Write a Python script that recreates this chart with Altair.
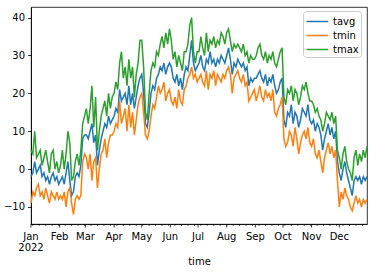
import altair as alt
import pandas as pd

# values every second day of 2022
tavg = [
    -2, -1, 2, -1, 0, 1, -2, -1, -3, -2, -4, -2, -1, -3, -2, -4,          # Jan
    -3, -2, -4, -1, 2, -3, -7, -6, -2, -1, -2, 1, 8, 9,                   # Feb
    9, 8, 10, 12, 7, 9, 1, 5, 8, 10, 12, 11, 14, 12, 13,                  # Mar
    14, 16, 15, 21, 18, 19, 20, 17, 22, 17, 20, 16, 19, 22, 24,           # Apr
    25, 20, 12, 11, 15, 20, 22, 21, 24, 25, 27, 26, 28, 25, 27, 28,       # May
    27, 24, 23, 25, 22, 24, 21, 25, 27, 26, 30, 34, 28, 26, 27,           # Jun
    28, 30, 27, 26, 29, 28, 31, 28, 29, 27, 29, 28, 30, 29, 28,           # Jul
    30, 32, 29, 25, 28, 27, 29, 28, 27, 28, 26, 27, 22, 24, 23, 24,       # Aug
    24, 25, 26, 24, 23, 25, 22, 24, 23, 25, 22, 20, 21, 23, 24,           # Sep
    13, 11, 15, 14, 17, 12, 15, 14, 11, 13, 16, 15, 14, 17, 13,           # Oct
    12, 13, 10, 12, 11, 9, 5, 8, 10, 12, 9, 11, 8, 10, 2,                 # Nov
    -1, -3, 0, 2, -1, -3, -5, -7, -3, -2, -3, -2, -4, -2, -3, -2,         # Dec
]
tmin = [
    -9, -6, -7, -5, -4, -7, -6, -8, -5, -7, -9, -6, -7, -8, -6, -8,
    -7, -8, -6, -10, -6, -5, -9, -12, -8, -7, -8, -7, 2, 4,
    3, 0, 4, -3, 2, 3, -5, 0, 4, 5, 8, 3, 7, 9, 9,
    10, 12, 11, 18, 12, 14, 16, 10, 17, 11, 15, 9, 13, 17, 19,
    20, 15, 9, 8, 10, 14, 17, 16, 19, 22, 20, 21, 23, 18, 20, 21,
    18, 17, 19, 16, 21, 18, 17, 21, 22, 24, 25, 27, 24, 25, 23,
    24, 25, 23, 22, 26, 21, 25, 24, 26, 22, 25, 24, 23, 25, 24,
    26, 27, 25, 20, 24, 25, 26, 24, 23, 25, 22, 23, 18, 19, 20, 21,
    18, 20, 22, 19, 18, 21, 19, 20, 18, 21, 15, 14, 16, 17, 19,
    8, 6, 7, 10, 9, 6, 11, 8, 4, 7, 9, 10, 8, 11, 7,
    6, 8, 4, 3, 5, 2, -1, 3, 5, 7, 4, 6, 3, 5, -3,
    -10, -6, -8, -5, -7, -8, -10, -11, -9, -7, -9, -8, -10, -8, -9, -8,
]
tmax = [
    5, 4, 10, 3, 4, 5, 1, 3, 5, 2, -1, 4, 5, 0, 2, -1,
    1, 5, 0, 4, 10, 7, -3, -2, 2, 4, 1, 5, 12, 14,
    16, 12, 16, 22, 11, 19, 5, 10, 14, 16, 18, 14, 20, 16, 19,
    20, 23, 21, 28, 31, 24, 27, 22, 29, 24, 27, 19, 25, 28, 34,
    34, 27, 15, 13, 20, 26, 28, 27, 31, 30, 33, 35, 32, 36, 33, 37,
    34, 29, 31, 27, 30, 28, 26, 31, 31, 33, 38, 40, 31, 28, 31,
    31, 35, 32, 30, 36, 31, 34, 33, 35, 32, 34, 33, 36, 35, 33,
    36, 37, 34, 31, 33, 32, 33, 32, 31, 33, 30, 31, 28, 30, 29, 29,
    30, 32, 33, 30, 29, 31, 28, 30, 29, 31, 28, 27, 29, 31, 32,
    19, 17, 21, 20, 22, 18, 21, 20, 17, 19, 22, 21, 23, 20, 18,
    18, 17, 15, 16, 14, 13, 10, 12, 15, 14, 13, 15, 12, 14, 5,
    3, 0, 4, 6, 2, 0, -1, -3, 3, 5, 1, 4, 2, 5, 3, 6,
]
series_names = ["tavg", "tmin", "tmax"]
series_colors = ["#1f77b4", "#ff7f0e", "#2ca02c"]
y_ticks = [-10, 0, 10, 20, 30, 40]
month_labels = ["Jan", "Feb", "Mar", "Apr", "May", "Jun",
                "Jul", "Aug", "Sep", "Oct", "Nov", "Dec"]
year_label = "2022"

W, H = 336, 217

n = min(len(tavg), len(tmin), len(tmax))
dates = pd.date_range("2022-01-01", periods=n, freq="2D")
rows = []
for name, vals in zip(series_names, [tavg, tmin, tmax]):
    for d, v in zip(dates, vals[:n]):
        rows.append({"time": d.strftime("%Y-%m-%dT00:00:00"), "series": name, "value": v})
df = pd.DataFrame(rows)

mondays = pd.date_range("2022-01-03", "2022-12-31", freq="7D")
minor_df = pd.DataFrame({"time": [d.strftime("%Y-%m-%dT00:00:00") for d in mondays]})
month_df = pd.DataFrame({
    "time": [f"2022-{m:02d}-01T00:00:00" for m in range(1, 13)],
    "label": month_labels,
})
year_df = pd.DataFrame({"time": ["2022-01-01T00:00:00"], "label": [year_label]})

x_scale = alt.Scale(domain=[alt.DateTime(year=2022, month=1, date=1),
                            alt.DateTime(year=2022, month=12, date=31)])

lines = alt.Chart(df).mark_line(strokeWidth=1.5).encode(
    x=alt.X("time:T", scale=x_scale,
            axis=alt.Axis(title="time", ticks=False, labels=False, titlePadding=32)),
    y=alt.Y("value:Q", scale=alt.Scale(domain=[-14.5, 42.8], nice=False, zero=False),
            axis=alt.Axis(values=y_ticks, title=None, tickSize=3.5, labelPadding=3)),
    color=alt.Color("series:N", scale=alt.Scale(domain=series_names, range=series_colors),
                    legend=alt.Legend(title=None, orient="none", legendX=272, legendY=4,
                                      strokeColor="#cccccc", fillColor="white", cornerRadius=3,
                                      padding=2, symbolType="M-0.9,0L1.9,0", symbolSize=240,
                                      symbolStrokeWidth=1.5, labelFontSize=10,
                                      labelFont="DejaVu Sans", labelColor="#000",
                                      labelOffset=11, rowPadding=0)),
)

minor = alt.Chart(minor_df).mark_rule(color="black", strokeWidth=0.6).encode(
    x=alt.X("time:T", scale=x_scale),
    y=alt.value(H),
    y2=alt.value(H + 2),
)

major = alt.Chart(month_df).mark_rule(color="black", strokeWidth=0.8).encode(
    x=alt.X("time:T", scale=x_scale),
    y=alt.value(H),
    y2=alt.value(H + 3.5),
)

month_text = alt.Chart(month_df).mark_text(
    font="DejaVu Sans", fontSize=10, color="#000", align="center", baseline="middle"
).encode(
    x=alt.X("time:T", scale=x_scale),
    y=alt.value(H + 13),
    text="label:N",
)

year_text = alt.Chart(year_df).mark_text(
    font="DejaVu Sans", fontSize=10, color="#000", align="center", baseline="middle"
).encode(
    x=alt.X("time:T", scale=x_scale),
    y=alt.value(H + 24),
    text="label:N",
)

chart = alt.layer(lines, minor, major, month_text, year_text).properties(
    width=W, height=H,
    padding={"left": 31, "top": 7, "right": 5, "bottom": 50},
    autosize=alt.AutoSizeParams(type="none"),
).configure_view(
    stroke="black", strokeWidth=0.8
).configure_axis(
    labelFont="DejaVu Sans", labelFontSize=10, labelColor="#000",
    titleFont="DejaVu Sans", titleFontSize=10, titleFontWeight="normal", titleColor="#000",
    tickColor="#000", domainColor="#000", tickWidth=0.8, domainWidth=0.8, grid=False,
)

chart.save("out.html", embed_options={"renderer": "svg", "actions": False})
